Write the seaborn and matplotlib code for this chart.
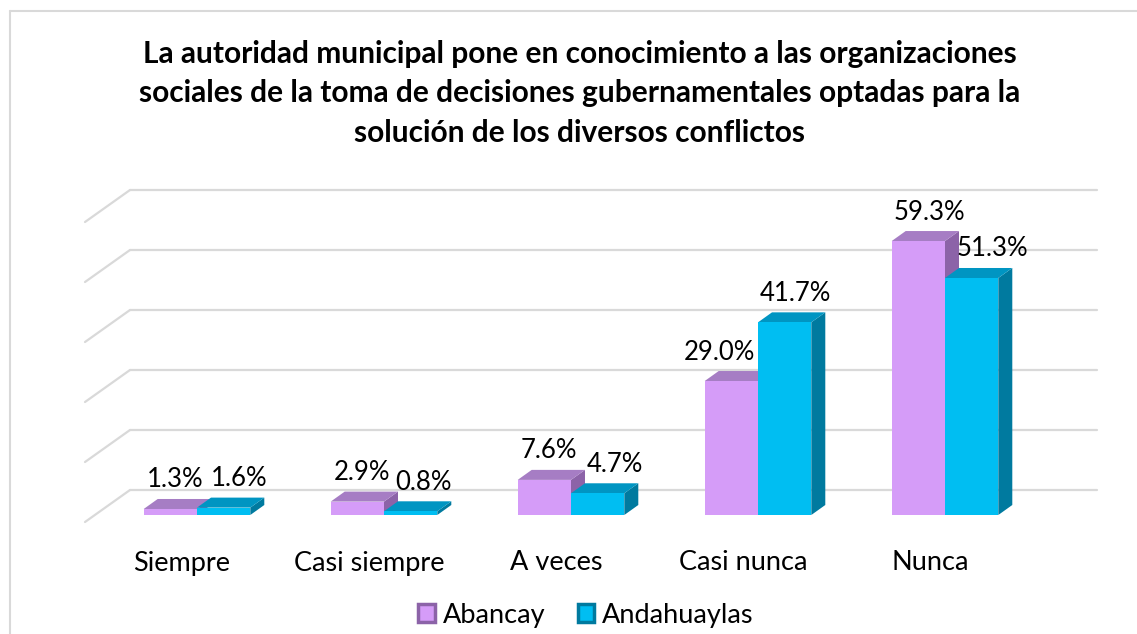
import pandas as pd
import seaborn as sns
import matplotlib.pyplot as plt
from matplotlib.patches import Polygon, Patch

categories = ["Siempre", "Casi siempre", "A veces", "Casi nunca", "Nunca"]
abancay = [1.3, 2.9, 7.6, 29.0, 59.3]
andahuaylas = [1.6, 0.8, 4.7, 41.7, 51.3]
series = ["Abancay", "Andahuaylas"]

df = pd.DataFrame({
    "Respuesta": categories * 2,
    "Porcentaje": abancay + andahuaylas,
    "Distrito": [series[0]] * 5 + [series[1]] * 5,
})

# colours: front, top, side
purple = ("#D59CF8", "#A67DC4", "#8C63A8")
blue = ("#00BEF2", "#0095C2", "#007A9F")

sns.set_style("white")
plt.rcParams["font.family"] = ["Lato", "DejaVu Sans"]
plt.rcParams["text.color"] = "black"

W, H = 1137, 634
fig = plt.figure(figsize=(W / 100, H / 100), dpi=100)

# pixel geometry of the plot: category i centred at 197 + 187*i px, value 0 at y=515 px
px_x0, px_step = 197, 187
px_y0, px_per = 515, 4.62
left, right, top, bottom = 80, 1110, 180, 530
ax = fig.add_axes([left / W, (H - bottom) / H, (right - left) / W, (bottom - top) / H])

def dx(px):
    return px / px_step

def dy(px):
    return px / px_per

sns.barplot(data=df, x="Respuesta", y="Porcentaje", hue="Distrito",
            palette=[purple[0], blue[0]], width=0.57, saturation=1,
            linewidth=0, legend=False, ax=ax)

ax.set_xlim((left - px_x0) / px_step, (right - px_x0) / px_step)
ax.set_ylim((px_y0 - bottom) / px_per, (px_y0 - top) / px_per)
ax.axis("off")

# back wall gridlines (in 3D perspective)
grid_vals = [0, 10, 20, 30, 40, 50]
for v in grid_vals:
    gy = dy(px_y0 - (490 - 6 * v))
    x_start = dx(130 - px_x0)
    x_end = dx(1097 - px_x0)
    ax.plot([x_start, x_end], [gy, gy], color="#D9D9D9", lw=1.6, zorder=0, clip_on=False)
    ax.plot([x_start - dx(45), x_start], [gy - dy(32), gy], color="#D9D9D9", lw=1.6,
            zorder=0, clip_on=False)

# 3D faces on each bar
depth_x, depth_y = dx(14), dy(10)
for k, (container, cols) in enumerate(zip(ax.containers, [purple, blue])):
    for bar in container:
        x0 = bar.get_x()
        x1 = x0 + bar.get_width()
        h = bar.get_height()
        bar.set_zorder(3 + 2 * k)
        top_face = Polygon([(x0, h), (x1, h), (x1 + depth_x, h + depth_y), (x0 + depth_x, h + depth_y)],
                           closed=True, facecolor=cols[1], edgecolor="none", zorder=2.9 + 2 * k)
        side_face = Polygon([(x1, 0), (x1 + depth_x, depth_y), (x1 + depth_x, h + depth_y), (x1, h)],
                            closed=True, facecolor=cols[2], edgecolor="none", zorder=2.8 + 2 * k)
        ax.add_patch(top_face)
        ax.add_patch(side_face)

# value labels
nudges = [[5, 5, 5, -12, 11], [16, 13, 17, 11, 21]]
for k, (container, vals) in enumerate(zip(ax.containers, [abancay, andahuaylas])):
    for j, (bar, v) in enumerate(zip(container, vals)):
        cx = bar.get_x() + bar.get_width() / 2 + dx(nudges[k][j])
        ax.text(cx, v + dy(29), f"{v:.1f}%", ha="center", va="center",
                fontsize=18.5, color="black", zorder=10)

# category labels
for i, c in enumerate(categories):
    ax.text(i - dx(15), dy(px_y0 - 563), c, ha="center", va="center",
            fontsize=19.5, color="black", clip_on=False)

fig.text(580 / W, 1 - 93 / H,
         "La autoridad municipal pone en conocimiento a las organizaciones\n"
         "sociales de la toma de decisiones gubernamentales optadas para la\n"
         "solución de los diversos conflictos",
         ha="center", va="center", fontsize=21.5, fontweight="bold",
         linespacing=1.5, color="black")

handles = [Patch(facecolor=purple[0], edgecolor=purple[2], linewidth=2.5),
           Patch(facecolor=blue[0], edgecolor=blue[2], linewidth=2.5)]
fig.legend(handles, series, loc="center", bbox_to_anchor=(586 / W, 1 - 615 / H),
           ncol=2, frameon=False, fontsize=19.5, handlelength=0.6, handleheight=0.6,
           handletextpad=0.3, columnspacing=1.2, borderpad=0)

# chart area border
fig.add_artist(plt.Line2D([10 / W, 10 / W], [0, 1 - 11 / H], color="#D9D9D9", lw=1.5))
fig.add_artist(plt.Line2D([10 / W, 1], [1 - 11 / H, 1 - 11 / H], color="#D9D9D9", lw=1.5))

fig.savefig("out.png", dpi=100)
